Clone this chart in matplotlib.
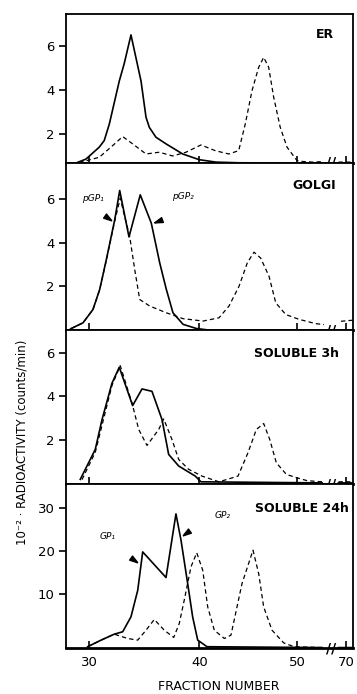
import numpy as np
import matplotlib
matplotlib.use("Agg")
import matplotlib.pyplot as plt

plt.rcParams['font.family'] = ['DejaVu Sans']

# ---- data (fraction number, 10^-2 counts/min) ----
er_solid_x = [28.98, 29.73, 30.93, 31.38, 31.84, 32.74, 33.19, 33.80, 34.71, 35.16,
              35.46, 36.06, 36.97, 38.48, 39.98, 41.68, 44.0, 50.0, 52.5, np.nan, 68.5, 71.4]
er_solid_y = [0.71, 0.86, 1.4, 1.7, 2.45, 4.4, 5.2, 6.5, 4.4, 2.76,
              2.3, 1.85, 1.55, 1.09, 0.83, 0.72, 0.69, 0.68, 0.68, np.nan, 0.68, 0.68]
er_dash_x = [29.12, 30.93, 32.14, 33.05, 33.95, 35.16, 36.36, 37.57, 38.78, 40.15,
             41.61, 42.98, 44.0, 44.67, 45.36, 46.04, 46.55, 47.06, 47.57, 48.24,
             48.93, 49.95, 50.5, 51.5, 52.5, np.nan, 68.5, 71.4]
er_dash_y = [0.7, 0.94, 1.47, 1.88, 1.55, 1.09, 1.17, 1.0, 1.17, 1.5,
             1.24, 1.09, 1.24, 2.45, 3.97, 5.03, 5.48, 5.03, 3.67, 2.3,
             1.4, 0.79, 0.75, 0.72, 0.74, np.nan, 0.72, 0.72]

golgi_solid_x = [28.2, 28.40, 29.46, 30.36, 30.97, 31.57, 32.33, 32.78, 33.62, 34.64,
                 35.64, 36.40, 37.0, 37.60, 38.51, 39.71, 40.9, 52.5, np.nan, 68.5, 71.4]
golgi_solid_y = [0.0, 0.07, 0.33, 0.94, 1.86, 3.23, 5.06, 6.4, 4.27, 6.2,
                 4.9, 3.08, 1.86, 0.79, 0.26, 0.07, 0.0, 0.0, np.nan, 0.0, 0.0]
golgi_dash_x = [28.40, 29.46, 30.36, 30.97, 31.57, 32.33, 32.83, 33.23, 33.68, 34.14,
                34.59, 35.49, 37.0, 38.51, 40.36, 41.99, 43.01, 44.03, 44.88, 45.56,
                46.24, 47.09, 47.78, 48.80, 50.15, 51.86, 52.7, np.nan, 69.0, 71.4]
golgi_dash_y = [0.07, 0.33, 0.94, 1.86, 3.2, 5.0, 6.05, 5.2, 4.3, 2.77,
                1.4, 1.1, 0.79, 0.52, 0.41, 0.56, 1.1, 2.0, 3.08, 3.57,
                3.3, 2.47, 1.25, 0.71, 0.49, 0.29, 0.25, np.nan, 0.4, 0.45]

sol3_solid_x = [29.21, 30.57, 31.18, 32.08, 32.74, 33.95, 34.80, 35.70, 36.61, 37.21,
                38.12, 39.62, 40.15, 52.5, np.nan, 68.5, 71.4]
sol3_solid_y = [0.21, 1.58, 2.94, 4.6, 5.33, 3.58, 4.34, 4.23, 2.94, 1.35,
                0.82, 0.36, 0.1, 0.05, np.nan, 0.05, 0.05]
sol3_dash_x = [29.37, 30.57, 32.08, 32.83, 33.89, 34.50, 35.25, 36.31, 36.76, 37.51,
               38.12, 39.02, 40.26, 41.99, 43.93, 44.95, 45.80, 46.55, 47.17, 47.84,
               48.86, 49.88, 51.0, 52.5, np.nan, 68.5, 71.4]
sol3_dash_y = [0.2, 1.45, 4.5, 5.4, 3.7, 2.49, 1.76, 2.49, 2.97, 2.03,
               1.12, 0.67, 0.36, 0.1, 0.36, 1.43, 2.49, 2.76, 2.03, 0.97,
               0.44, 0.29, 0.15, 0.1, np.nan, 0.1, 0.1]

sol24_solid_x = [29.88, 31.09, 32.29, 33.05, 33.80, 34.41, 34.86, 36.97, 37.87, 38.33,
                 38.93, 39.38, 39.84, 40.77, 52.5, np.nan, 68.5, 71.4]
sol24_solid_y = [-2.4, -0.86, 0.54, 1.1, 4.6, 10.8, 19.8, 13.8, 28.7, 22.5,
                 12.4, 4.6, -0.86, -2.4, -2.6, np.nan, -2.6, -2.6]
sol24_dash_x = [29.88, 31.09, 32.29, 33.50, 34.41, 35.16, 35.91, 36.81, 37.67, 38.17,
                38.62, 39.23, 39.75, 40.33, 40.84, 41.51, 42.53, 43.21, 43.90, 44.34,
                45.46, 46.04, 46.55, 47.40, 48.59, 49.64, 52.5]
sol24_dash_y = [-2.4, -0.86, 0.54, -0.47, -0.86, 1.47, 3.97, 1.47, -0.23, 3.04,
                8.5, 16.3, 19.6, 15.5, 6.9, 1.47, -0.47, 0.3, 7.7, 12.4,
                20.2, 14.7, 6.9, 1.47, -1.5, -2.4, -2.6]

panel_titles = ['ER', 'GOLGI', 'SOLUBLE 3h', 'SOLUBLE 24h']
x_ticks = [30, 40, 50, 70]
x_tick_labels = ['30', '40', '50', '70']

# broken fraction axis: piecewise-linear scale, 50..70 squeezed after the break
FK = [0, 30, 40, 50, 53, 68, 70, 100]
PK = [-308.5, 23, 133.5, 231.5, 261, 270, 280, 430]


def fwd(f):
    return np.interp(f, FK, PK)


def inv(p):
    return np.interp(p, PK, FK)


def arrowhead(deg):
    """Narrow triangle marker pointing in direction deg."""
    a = np.radians(deg)
    pts = np.array([[1.0, 0.0], [-1.0, 0.6], [-1.0, -0.6], [1.0, 0.0]])
    rot = np.array([[np.cos(a), -np.sin(a)], [np.sin(a), np.cos(a)]])
    return (pts @ rot.T).tolist()


W, H = 357, 694
fig = plt.figure(figsize=(W / 100, H / 100), dpi=100)

left, right = 66, 353
rows = [(14, 163), (163, 330), (330, 484), (484, 648)]
ylims = [(0.68, 7.45), (0.0, 7.66), (0.0, 7.03), (-2.7, 35.7)]
yticks = [[2, 4, 6], [2, 4, 6], [2, 4, 6], [10, 20, 30]]
title_pos = [(0.934, 0.86), (0.941, 0.866), (0.951, 0.85), (0.985, 0.85)]

series = [
    (er_solid_x, er_solid_y, er_dash_x, er_dash_y),
    (golgi_solid_x, golgi_solid_y, golgi_dash_x, golgi_dash_y),
    (sol3_solid_x, sol3_solid_y, sol3_dash_x, sol3_dash_y),
    (sol24_solid_x, sol24_solid_y, sol24_dash_x, sol24_dash_y),
]

axes = []
for i, (top, bot) in enumerate(rows):
    ax = fig.add_axes([left / W, 1 - bot / H, (right - left) / W, (bot - top) / H])
    ax.set_xscale('function', functions=(fwd, inv))
    ax.set_xlim(27.92, 71.4)
    ax.set_ylim(*ylims[i])

    sx, sy, dx, dy = series[i]
    ax.plot(sx, sy, color='black', lw=1.2)
    ax.plot(dx, dy, color='black', lw=0.9, dashes=(3.5, 2.5))

    ax.set_yticks(yticks[i])
    ax.tick_params(axis='y', direction='out', length=5, width=1.2, labelsize=9.5, pad=3)
    ax.set_xticks(x_ticks)
    ax.tick_params(axis='x', direction='in', length=5, width=1.2, labelsize=9.5, pad=6)
    if i < 3:
        ax.set_xticklabels([])
    else:
        ax.set_xticklabels(x_tick_labels)
    ax.xaxis.set_minor_locator(matplotlib.ticker.NullLocator())
    for s in ax.spines.values():
        s.set_linewidth(1.3)
    ax.spines['bottom'].set_linewidth(2.0)

    ax.text(title_pos[i][0], title_pos[i][1], panel_titles[i], transform=ax.transAxes,
            ha='right', va='center', fontsize=9, fontweight='bold')
    # axis break mark
    ax.text(60, ylims[i][0], '//', ha='center', va='center', fontsize=10,
            fontweight='bold', clip_on=False)
    axes.append(ax)

# peak labels and arrowheads
ax_g, ax_s = axes[1], axes[3]
ax_g.text(30.36, 6.05, 'pGP\u2081', ha='center', va='center', fontsize=6.5, style='italic')
ax_g.text(38.5, 6.13, 'pGP\u2082', ha='center', va='center', fontsize=6.5, style='italic')
ax_g.plot([31.72], [5.14], marker=arrowhead(-35), color='black', ms=7, lw=0)
ax_g.plot([36.24], [4.99], marker=arrowhead(200), color='black', ms=7, lw=0)
ax_s.text(31.72, 23.4, 'GP\u2081', ha='center', va='center', fontsize=6.5, style='italic')
ax_s.text(42.4, 28.3, 'GP\u2082', ha='center', va='center', fontsize=6.5, style='italic')
ax_s.plot([34.04], [18.0], marker=arrowhead(-35), color='black', ms=7, lw=0)
ax_s.plot([38.78], [24.2], marker=arrowhead(215), color='black', ms=7, lw=0)

fig.text(0.062, 0.363, '10\u207b\u00b2 \u00b7 RADIOACTIVITY (counts/min)', rotation=90,
         ha='center', va='center', fontsize=8.5)
fig.text(0.612, 0.0115, 'FRACTION NUMBER', ha='center', va='center', fontsize=9)

fig.savefig('out.png', dpi=100)
